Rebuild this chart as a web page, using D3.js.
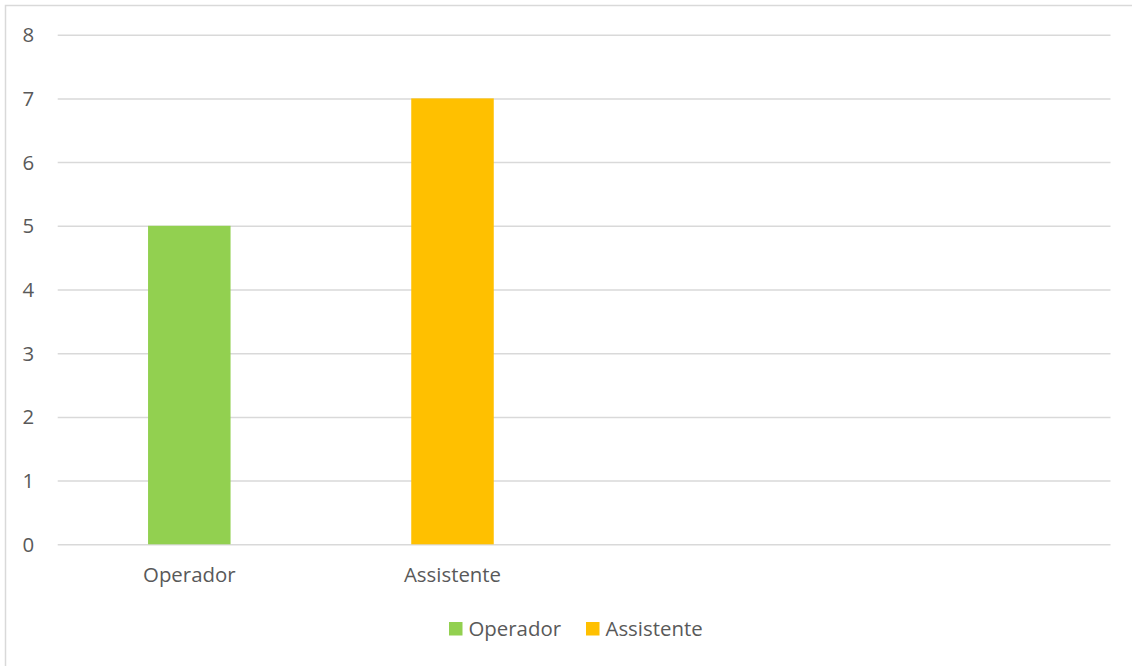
<!DOCTYPE html>
<html>
<head>
<meta charset="utf-8">
<script src="https://cdn.jsdelivr.net/npm/d3@7"></script>
<style>
  html, body { margin: 0; padding: 0; background: #ffffff; }
  svg { display: block; }
  text { font-family: "Open Sans", "Liberation Sans", sans-serif; fill: #595959; }
</style>
</head>
<body>
<svg id="chart" width="1132" height="666"></svg>
<script>
// Category slots on the x axis (the last two are empty)
const categories = ["Operador", "Assistente", "", " "];
// One value per series, each drawn in its own category slot
const seriesNames = ["Operador", "Assistente"];
const seriesValues = [5, 7];
const seriesColors = ["#92D050", "#FFC000"];
const yTicks = [0, 1, 2, 3, 4, 5, 6, 7, 8];

const svg = d3.select("#chart");
const W = 1132, H = 666;
const plot = { left: 57.7, right: 1110.5, top: 34.7, bottom: 544.3 };
const fontSize = 20.4;

// Chart frame
svg.append("path")
  .attr("d", `M5.5,${H + 2}V5.5H${W + 2}`)
  .attr("fill", "none")
  .attr("stroke", "#d9d9d9")
  .attr("stroke-width", 1.5);

const x = d3.scaleBand()
  .domain(categories)
  .range([plot.left, plot.right])
  .padding(0);

const y = d3.scaleLinear()
  .domain([0, 8])
  .range([plot.bottom, plot.top]);

// Horizontal gridlines and value labels
const yAxis = d3.axisLeft(y)
  .tickValues(yTicks)
  .tickSize(-(plot.right - plot.left))
  .tickPadding(23.5)
  .tickFormat(d3.format("d"));

const gy = svg.append("g")
  .attr("transform", `translate(${plot.left},0)`)
  .call(yAxis);
gy.select(".domain").remove();
gy.selectAll(".tick line").attr("stroke", "#d9d9d9").attr("stroke-width", 1.5);
gy.selectAll(".tick text")
  .attr("font-size", fontSize)
  .attr("fill", "#595959")
  .attr("dy", "0.34em");

// Bars: each series occupies its own category slot
const gapWidth = 2.19;
const barW = x.bandwidth() / (1 + gapWidth);
svg.append("g").selectAll("rect")
  .data(seriesValues)
  .join("rect")
  .attr("x", (d, i) => x(categories[i]) + (x.bandwidth() - barW) / 2)
  .attr("y", d => y(d))
  .attr("width", barW)
  .attr("height", d => y(0) - y(d))
  .attr("fill", (d, i) => seriesColors[i]);

// Category labels
const xAxis = d3.axisBottom(x).tickSize(0).tickPadding(0);
const gx = svg.append("g")
  .attr("transform", `translate(0,${plot.bottom})`)
  .call(xAxis);
gx.select(".domain").remove();
gx.selectAll(".tick text")
  .attr("font-size", fontSize)
  .attr("fill", "#595959")
  .attr("y", 38)
  .attr("dy", 0);

// Legend
const legend = svg.append("g");
const legendItems = [
  { name: seriesNames[0], color: seriesColors[0], x: 449 },
  { name: seriesNames[1], color: seriesColors[1], x: 586 }
];
legendItems.forEach(item => {
  legend.append("rect")
    .attr("x", item.x)
    .attr("y", 622)
    .attr("width", 13.5)
    .attr("height", 13.5)
    .attr("fill", item.color);
  legend.append("text")
    .attr("x", item.x + 19.5)
    .attr("y", 636)
    .attr("font-size", fontSize)
    .text(item.name);
});
</script>
</body>
</html>
